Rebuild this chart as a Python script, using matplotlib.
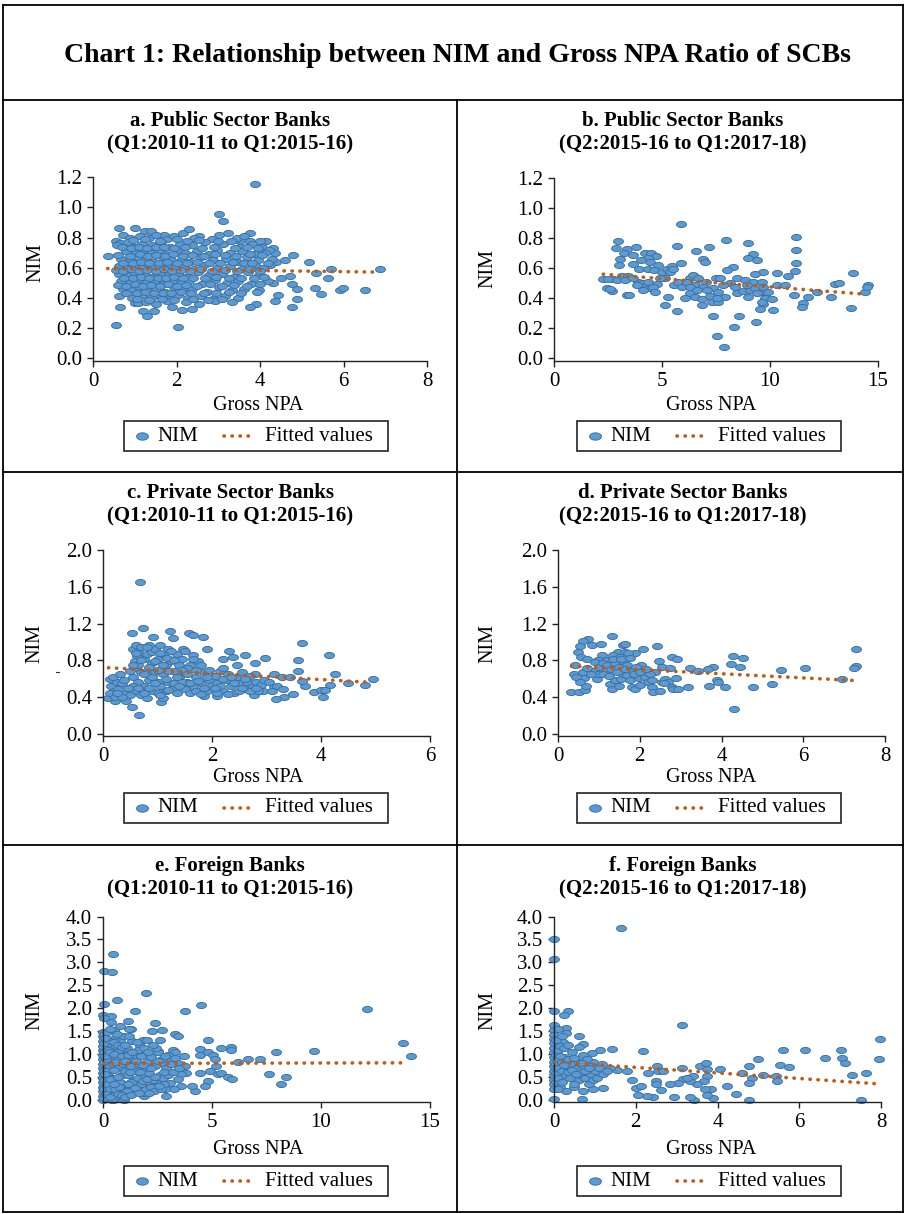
import numpy as np
import matplotlib
matplotlib.use("Agg")
import matplotlib.pyplot as plt
from matplotlib.path import Path
from matplotlib.markers import MarkerStyle
from matplotlib.lines import Line2D
from matplotlib.patches import Rectangle

plt.rcParams['font.family'] = ['Liberation Serif', 'DejaVu Serif']

# ---------------- data ----------------
main_title = "Chart 1: Relationship between NIM and Gross NPA Ratio of SCBs"
panel_titles = [
    ("a. Public Sector Banks", "(Q1:2010-11 to Q1:2015-16)"),
    ("b. Public Sector Banks", "(Q2:2015-16 to Q1:2017-18)"),
    ("c. Private Sector Banks", "(Q1:2010-11 to Q1:2015-16)"),
    ("d. Private Sector Banks", "(Q2:2015-16 to Q1:2017-18)"),
    ("e. Foreign Banks", "(Q1:2010-11 to Q1:2015-16)"),
    ("f. Foreign Banks", "(Q2:2015-16 to Q1:2017-18)"),
]
x_label = "Gross NPA"
y_label = "NIM"
legend_labels = ["NIM", "Fitted values"]

xticks_a = [0, 2, 4, 6, 8]
xticks_b = [0, 5, 10, 15]
xticks_c = [0, 2, 4, 6]
xticks_d = [0, 2, 4, 6, 8]
xticks_e = [0, 5, 10, 15]
xticks_f = [0, 2, 4, 6, 8]
yticks_ab = [0.0, 0.2, 0.4, 0.6, 0.8, 1.0, 1.2]
yticks_cd = [0.0, 0.4, 0.8, 1.2, 1.6, 2.0]
yticks_ef = [0.0, 0.5, 1.0, 1.5, 2.0, 2.5, 3.0, 3.5, 4.0]

# fitted line end points (x, y)
fit_a = [(0.35, 0.595), (6.7, 0.572)]
fit_b = [(2.28, 0.559), (14.48, 0.425)]
fit_c = [(0.10, 0.72), (4.85, 0.564)]
fit_d = [(0.33, 0.738), (7.23, 0.582)]
fit_e = [(0.03, 0.79), (13.9, 0.803)]
fit_f = [(0.0, 0.825), (7.94, 0.343)]

# scatter points (Gross NPA, NIM)
pts_a = [
    (3.87, 1.156), (3.02, 0.958), (3.11, 0.91), (0.37, 0.675), (0.56, 0.22), (2.04, 0.21),
    (6.87, 0.594), (6.52, 0.456), (5.91, 0.45), (5.99, 0.465), (5.69, 0.594), (5.63, 0.53),
    (5.18, 0.636), (5.35, 0.568), (5.31, 0.467), (5.47, 0.423), (4.80, 0.686), (4.77, 0.49),
    (4.89, 0.46), (4.89, 0.395), (4.77, 0.338), (4.42, 0.42), (4.35, 0.38), (4.61, 0.653),
    (4.51, 0.535), (4.72, 0.546), (4.31, 0.498), (3.90, 0.36), (3.75, 0.34), (3.98, 0.454),
    (3.75, 0.833), (3.23, 0.83), (3.02, 0.816), (2.38, 0.327), (2.12, 0.322), (1.90, 0.342),
    (1.20, 0.316), (1.29, 0.278), (1.46, 0.311), (0.65, 0.338), (1.0, 0.364), (1.08, 0.364),
    (0.62, 0.866), (1.01, 0.864), (1.24, 0.842), (1.40, 0.846), (1.70, 0.82), (2.16, 0.833),
    (2.29, 0.855), (2.55, 0.811), (0.54, 0.776), (0.64, 0.765), (4.15, 0.78), (4.31, 0.73),
    (4.35, 0.695), (4.38, 0.64), (4.23, 0.62), (3.75, 0.78), (3.99, 0.78), (3.51, 0.78), (3.39, 0.787),
    (0.72, 0.82), (0.88, 0.80), (1.12, 0.81), (1.33, 0.80), (1.52, 0.82), (1.78, 0.79), (1.95, 0.81),
    (2.42, 0.80), (2.85, 0.79), (3.45, 0.80), (3.62, 0.81),
    (0.58, 0.75), (0.83, 0.77), (0.98, 0.74), (1.18, 0.76), (1.42, 0.75), (1.63, 0.77), (1.85, 0.74),
    (2.08, 0.76), (2.36, 0.75), (2.68, 0.77), (3.12, 0.76), (3.52, 0.74), (3.82, 0.76), (4.05, 0.74), (4.22, 0.72),
    (0.78, 0.71), (1.03, 0.70), (1.22, 0.72), (1.38, 0.70), (1.58, 0.71), (1.76, 0.69), (2.02, 0.72),
    (2.21, 0.70), (2.48, 0.71), (2.77, 0.69), (2.98, 0.72), (3.28, 0.70), (3.58, 0.71), (3.88, 0.69), (4.12, 0.70),
    (0.68, 0.66), (0.92, 0.65), (1.08, 0.67), (1.28, 0.66), (1.47, 0.64), (1.68, 0.67), (1.88, 0.65),
    (2.12, 0.66), (2.32, 0.64), (2.58, 0.67), (2.88, 0.65), (3.18, 0.66), (3.48, 0.64), (3.68, 0.67),
    (3.95, 0.65), (4.28, 0.66),
    (0.62, 0.61), (0.82, 0.60), (1.02, 0.62), (1.18, 0.60), (1.37, 0.61), (1.57, 0.59), (1.77, 0.62),
    (1.97, 0.60), (2.18, 0.61), (2.42, 0.59), (2.67, 0.62), (2.97, 0.60), (3.27, 0.61), (3.57, 0.59),
    (3.87, 0.62), (4.08, 0.60),
    (0.63, 0.56), (0.84, 0.55), (0.99, 0.57), (1.21, 0.56), (1.41, 0.54), (1.61, 0.57), (1.82, 0.55),
    (2.03, 0.56), (2.23, 0.54), (2.52, 0.57), (2.78, 0.55), (3.08, 0.56), (3.38, 0.54), (3.72, 0.57), (3.98, 0.55),
    (0.66, 0.51), (0.88, 0.50), (1.07, 0.52), (1.27, 0.50), (1.48, 0.51), (1.67, 0.49), (1.92, 0.52),
    (2.11, 0.50), (2.31, 0.51), (2.62, 0.49), (2.92, 0.52), (3.22, 0.50), (3.47, 0.51), (3.78, 0.49), (4.18, 0.51),
    (0.72, 0.46), (0.91, 0.45), (1.13, 0.47), (1.32, 0.45), (1.52, 0.46), (1.72, 0.44), (1.93, 0.47),
    (2.14, 0.45), (2.38, 0.46), (2.72, 0.44), (3.02, 0.47), (3.32, 0.45), (3.62, 0.46), (3.92, 0.44),
    (0.63, 0.41), (0.93, 0.40), (1.17, 0.42), (1.39, 0.40), (1.62, 0.41), (1.82, 0.39), (2.04, 0.42),
    (2.28, 0.40), (2.58, 0.41), (2.87, 0.39), (3.17, 0.41), (3.48, 0.40),
    (1.28, 0.37), (1.52, 0.36), (1.78, 0.38), (2.22, 0.37), (2.53, 0.36), (2.93, 0.38), (3.33, 0.37),
    (0.95, 0.785), (1.25, 0.79), (1.6, 0.78), (2.0, 0.79), (2.25, 0.78), (2.55, 0.785), (3.0, 0.78), (3.3, 0.775),
    (0.7, 0.735), (0.9, 0.73), (1.1, 0.74), (1.3, 0.73), (1.5, 0.735), (1.7, 0.74), (1.95, 0.73),
    (2.2, 0.735), (2.6, 0.73), (2.9, 0.74), (3.4, 0.73), (3.7, 0.735), (3.95, 0.73),
    (0.6, 0.685), (0.88, 0.68), (1.12, 0.69), (1.32, 0.68), (1.5, 0.685), (1.72, 0.68), (1.92, 0.69),
    (2.15, 0.68), (2.38, 0.685), (2.65, 0.68), (2.92, 0.69), (3.15, 0.685), (3.42, 0.68), (3.75, 0.69), (4.05, 0.685),
    (0.72, 0.635), (0.95, 0.63), (1.15, 0.64), (1.35, 0.63), (1.58, 0.635), (1.78, 0.64), (2.0, 0.63),
    (2.25, 0.635), (2.5, 0.64), (2.78, 0.63), (3.05, 0.635), (3.35, 0.64), (3.62, 0.63), (3.82, 0.635), (4.18, 0.63),
    (0.55, 0.585), (0.72, 0.58), (0.92, 0.59), (1.1, 0.58), (1.3, 0.585), (1.5, 0.58), (1.7, 0.59),
    (1.9, 0.58), (2.1, 0.585), (2.32, 0.58), (2.58, 0.59), (2.85, 0.58), (3.15, 0.585), (3.45, 0.58),
    (3.75, 0.59), (4.0, 0.58),
    (0.75, 0.535), (0.95, 0.53), (1.15, 0.54), (1.35, 0.53), (1.55, 0.535), (1.75, 0.53), (1.95, 0.54),
    (2.15, 0.53), (2.4, 0.535), (2.68, 0.53), (2.95, 0.54), (3.25, 0.53), (3.55, 0.535), (3.85, 0.53), (4.1, 0.54),
    (0.6, 0.485), (0.8, 0.48), (1.0, 0.49), (1.2, 0.48), (1.4, 0.485), (1.6, 0.48), (1.8, 0.49),
    (2.0, 0.48), (2.22, 0.485), (2.5, 0.48), (2.8, 0.49), (3.1, 0.48), (3.38, 0.485), (3.7, 0.48), (4.0, 0.49),
    (0.8, 0.435), (1.05, 0.43), (1.25, 0.44), (1.45, 0.43), (1.68, 0.435), (1.88, 0.43), (2.1, 0.44),
    (2.35, 0.43), (2.65, 0.435), (2.95, 0.43), (3.25, 0.44), (3.55, 0.43),
    (1.05, 0.39), (1.35, 0.385), (1.65, 0.39), (1.95, 0.385), (2.4, 0.39), (2.75, 0.385), (3.1, 0.39),
]

pts_b = [
    (5.88, 0.893), (2.98, 0.779), (2.85, 0.735), (3.36, 0.724), (3.78, 0.737), (3.06, 0.662),
    (3.02, 0.618), (3.24, 0.70), (3.67, 0.684), (4.21, 0.70), (4.49, 0.70), (4.72, 0.678),
    (4.37, 0.667), (4.01, 0.651), (4.44, 0.64), (4.83, 0.623), (3.64, 0.625), (3.92, 0.596),
    (4.34, 0.596), (4.63, 0.586), (5.0, 0.575), (5.25, 0.596), (5.46, 0.612), (5.88, 0.636),
    (5.69, 0.748), (6.56, 0.711), (7.19, 0.737), (6.91, 0.658), (6.99, 0.64), (7.98, 0.789),
    (8.98, 0.763), (9.23, 0.695), (9.0, 0.667), (9.41, 0.656), (8.3, 0.607), (7.99, 0.586),
    (11.19, 0.807), (11.19, 0.721), (11.19, 0.636), (11.14, 0.577), (10.82, 0.544), (10.34, 0.564),
    (9.69, 0.575), (9.29, 0.559), (13.86, 0.57), (2.28, 0.524), (2.75, 0.526), (3.13, 0.546),
    (3.44, 0.544), (2.44, 0.465), (2.7, 0.45), (3.4, 0.421), (3.47, 0.419), (3.9, 0.509),
    (4.06, 0.498), (4.29, 0.487), (4.44, 0.465), (4.75, 0.496), (5.14, 0.531), (5.29, 0.41),
    (5.14, 0.351), (5.68, 0.314), (5.56, 0.487), (5.99, 0.487), (6.3, 0.535), (6.45, 0.553),
    (6.68, 0.535), (7.06, 0.509), (7.48, 0.535), (7.69, 0.535), (6.53, 0.487), (6.91, 0.476),
    (7.38, 0.465), (7.61, 0.439), (6.3, 0.432), (6.53, 0.404), (6.84, 0.395), (6.06, 0.399),
    (6.84, 0.355), (7.3, 0.373), (7.61, 0.373), (7.92, 0.41), (7.36, 0.281), (7.55, 0.151),
    (7.86, 0.077), (8.35, 0.211), (8.56, 0.281), (9.35, 0.243), (8.15, 0.502), (8.46, 0.531),
    (8.84, 0.52), (9.23, 0.509), (9.61, 0.509), (8.46, 0.432), (8.77, 0.447), (9.07, 0.454),
    (9.61, 0.443), (9.77, 0.399), (10.08, 0.395), (9.69, 0.36), (9.54, 0.329), (10.15, 0.322),
    (10.31, 0.487), (10.7, 0.487), (11.13, 0.421), (11.54, 0.366), (11.47, 0.338), (11.78, 0.41),
    (12.16, 0.443), (12.82, 0.41), (13.0, 0.493), (13.21, 0.502), (13.75, 0.333), (14.4, 0.443),
    (14.55, 0.487), (14.5, 0.471), (2.9, 0.52), (3.29, 0.52), (3.67, 0.531), (3.83, 0.487),
    (4.14, 0.454), (4.37, 0.509), (4.6, 0.476), (4.68, 0.443), (4.91, 0.531), (5.37, 0.575),
    (5.52, 0.596), (5.76, 0.509), (5.91, 0.476), (6.14, 0.509), (6.3, 0.476), (6.6, 0.454),
    (7.07, 0.454), (7.22, 0.417), (7.53, 0.399), (7.84, 0.487), (8.38, 0.476), (8.92, 0.487),
    (9.31, 0.465), (9.38, 0.432), (9.69, 0.476), (9.92, 0.443), (9.61, 0.377), (9.0, 0.41),
    (2.52, 0.524), (2.59, 0.46),
]

pts_c = [
    (0.68, 1.647), (0.73, 1.156), (0.54, 1.098), (1.23, 1.12), (1.57, 1.098), (1.65, 1.073),
    (1.84, 1.055), (0.92, 1.055), (1.28, 1.047), (1.9, 0.927), (1.47, 0.927), (1.66, 0.862),
    (2.32, 0.898), (2.61, 0.855), (2.98, 0.829), (3.66, 0.989), (4.15, 0.858), (3.58, 0.804),
    (2.79, 0.767), (2.39, 0.836), (2.21, 0.811), (3.58, 0.68), (4.26, 0.651), (4.17, 0.535),
    (4.49, 0.553), (4.81, 0.535), (4.95, 0.60), (3.71, 0.527), (3.88, 0.455), (4.0, 0.48),
    (4.07, 0.48), (4.04, 0.40), (3.49, 0.436), (3.33, 0.40), (3.17, 0.378), (2.77, 0.429),
    (3.13, 0.516), (2.94, 0.465), (2.09, 0.411), (1.86, 0.411), (1.06, 0.353), (0.54, 0.298),
    (0.66, 0.207), (0.22, 0.364), (0.1, 0.389), (0.43, 0.364), (0.13, 0.60), (3.13, 0.647),
    (3.28, 0.618), (3.43, 0.615), (3.65, 0.571), (2.79, 0.655),
    (0.15, 0.52), (0.2, 0.47), (0.25, 0.57), (0.3, 0.42), (0.35, 0.55), (0.12, 0.45), (0.18, 0.62),
    (0.28, 0.49), (0.4, 0.44), (0.22, 0.40), (0.32, 0.65), (0.38, 0.59),
    (0.55, 0.92), (0.6, 0.97), (0.62, 0.85), (0.58, 0.79), (0.65, 0.89), (0.7, 0.95), (0.75, 0.82),
    (0.8, 0.87), (0.85, 0.97), (0.9, 0.77), (0.6, 0.72), (0.7, 0.67), (0.8, 0.69), (0.55, 0.62),
    (0.65, 0.57), (0.75, 0.52), (0.85, 0.59), (0.6, 0.47), (0.7, 0.42), (0.8, 0.39), (0.5, 0.42),
    (0.9, 0.47), (0.55, 0.52), (0.65, 0.75), (0.9, 0.89), (0.5, 0.69),
    (0.95, 0.92), (1.0, 0.82), (1.05, 0.97), (1.1, 0.87), (1.15, 0.75), (1.2, 0.92), (1.25, 0.79),
    (1.3, 0.69), (1.35, 0.87), (1.4, 0.62), (0.95, 0.67), (1.0, 0.57), (1.05, 0.52), (1.1, 0.65),
    (1.15, 0.47), (1.2, 0.57), (1.25, 0.49), (1.3, 0.55), (1.35, 0.45), (1.0, 0.45), (1.1, 0.39),
    (0.95, 0.79), (1.18, 0.83), (1.4, 0.75),
    (1.45, 0.82), (1.5, 0.67), (1.55, 0.57), (1.6, 0.75), (1.65, 0.52), (1.7, 0.62), (1.75, 0.79),
    (1.8, 0.55), (1.85, 0.67), (1.9, 0.47), (1.95, 0.59), (1.5, 0.49), (1.6, 0.45), (1.45, 0.57),
    (1.7, 0.47), (1.55, 0.72), (1.8, 0.44), (2.0, 0.53),
    (2.05, 0.63), (2.1, 0.55), (2.15, 0.69), (2.2, 0.47), (2.25, 0.59), (2.3, 0.65), (2.35, 0.52),
    (2.4, 0.45), (2.45, 0.61), (2.5, 0.55), (2.55, 0.67), (2.6, 0.49), (2.65, 0.57), (2.7, 0.63),
    (2.75, 0.52), (2.8, 0.57), (2.85, 0.47), (2.9, 0.53), (2.95, 0.59), (2.1, 0.45), (2.3, 0.43),
    (2.5, 0.47), (2.2, 0.72), (2.45, 0.75), (2.7, 0.47),
    (3.05, 0.57), (3.2, 0.52), (3.3, 0.49), (3.1, 0.47),
    (0.55, 0.75), (0.6, 0.88), (0.7, 0.80), (0.75, 0.65), (0.8, 0.95), (0.85, 0.73), (0.9, 0.62),
    (0.95, 0.55), (1.0, 0.70), (1.05, 0.88), (1.1, 0.75), (1.15, 0.60), (1.2, 0.68), (1.25, 0.90),
    (1.3, 0.80), (1.35, 0.62), (1.4, 0.52), (1.45, 0.70), (1.5, 0.90), (1.55, 0.65), (1.6, 0.55),
    (1.65, 0.82), (1.7, 0.70), (1.75, 0.58), (1.8, 0.75), (1.85, 0.50), (1.9, 0.62), (1.95, 0.70),
    (0.75, 0.45), (0.85, 0.50), (0.65, 0.50), (1.05, 0.42), (1.2, 0.48), (2.2, 0.60), (2.4, 0.55),
    (2.6, 0.60), (2.8, 0.50), (2.15, 0.52), (2.35, 0.62), (2.55, 0.50), (2.05, 0.50), (0.45, 0.50),
    (0.35, 0.40), (0.25, 0.45),
]

pts_d = [
    (1.31, 1.069), (0.74, 1.033), (0.62, 1.011), (0.54, 0.956), (0.50, 0.891), (0.56, 0.836),
    (0.70, 0.818), (0.82, 0.971), (1.05, 0.975), (1.6, 0.964), (1.64, 0.975), (2.09, 0.92),
    (2.41, 0.956), (1.88, 0.884), (1.48, 0.891), (1.64, 0.891), (1.72, 0.884), (1.35, 0.855),
    (1.07, 0.855), (0.99, 0.80), (1.19, 0.80), (0.91, 0.782), (1.52, 0.836), (2.46, 0.793),
    (2.78, 0.84), (2.92, 0.811), (4.29, 0.847), (4.52, 0.822), (4.23, 0.756), (4.45, 0.731),
    (5.46, 0.695), (6.04, 0.72), (7.29, 0.92), (7.29, 0.735), (7.24, 0.713), (6.94, 0.596),
    (5.23, 0.545), (4.78, 0.516), (4.09, 0.509), (3.9, 0.582), (3.92, 0.564), (3.7, 0.52),
    (3.8, 0.727), (3.66, 0.702), (3.23, 0.72), (3.43, 0.684), (3.17, 0.516), (4.31, 0.269),
    (0.38, 0.655), (0.33, 0.455), (0.52, 0.455), (0.66, 0.473), (0.69, 0.527), (0.64, 0.611),
    (0.42, 0.745), (0.89, 0.68), (0.95, 0.60), (0.99, 0.655), (1.17, 0.691), (1.27, 0.545),
    (1.31, 0.484), (1.39, 0.582), (1.54, 0.60), (1.6, 0.655), (1.68, 0.636), (1.76, 0.582),
    (1.8, 0.509), (1.88, 0.491), (1.97, 0.607), (2.03, 0.745), (2.13, 0.618), (2.21, 0.564),
    (2.29, 0.509), (2.33, 0.455), (2.5, 0.465), (2.54, 0.564), (2.62, 0.60), (2.7, 0.564),
    (2.78, 0.509), (2.82, 0.491), (2.88, 0.607), (2.94, 0.491), (2.37, 0.673), (2.25, 0.655),
    (2.54, 0.727), (2.74, 0.716),
    (1.0, 0.73), (1.1, 0.77), (1.2, 0.75), (1.3, 0.71), (1.4, 0.77), (1.5, 0.73), (1.6, 0.79),
    (1.7, 0.75), (1.8, 0.69), (1.9, 0.73), (1.1, 0.65), (1.25, 0.63), (1.45, 0.67), (1.65, 0.71),
    (1.85, 0.65), (2.0, 0.67), (2.15, 0.71), (2.3, 0.59), (1.35, 0.82), (1.55, 0.81), (1.75, 0.83),
    (0.6, 0.67), (0.7, 0.72), (0.8, 0.65), (0.45, 0.62), (0.55, 0.57), (2.6, 0.55), (2.0, 0.53), (1.5, 0.52),
]

pts_e = [
    (0.46, 3.175), (0.03, 2.80), (0.41, 2.78), (1.96, 2.336), (0.66, 2.175), (0.03, 2.088),
    (4.51, 2.073), (3.75, 1.942), (1.47, 1.927), (12.09, 1.978), (0.0, 1.847), (0.38, 1.818),
    (1.15, 1.715), (2.4, 1.679), (2.25, 1.496), (2.71, 1.518), (3.29, 1.431), (3.44, 1.394),
    (4.82, 1.299), (13.78, 1.234), (14.14, 0.949), (9.68, 1.058), (7.92, 1.036), (7.19, 0.876),
    (6.65, 0.876), (6.19, 0.825), (5.43, 1.124), (5.86, 1.153), (5.86, 1.088), (4.43, 1.109),
    (4.43, 0.971), (4.82, 1.044), (5.05, 0.971), (5.12, 0.883), (5.2, 0.737), (4.89, 0.628),
    (4.43, 0.591), (5.28, 0.555), (5.43, 0.591), (5.73, 0.504), (5.93, 0.453), (7.61, 0.555),
    (8.38, 0.504), (8.17, 0.343), (4.82, 0.409), (4.66, 0.299), (4.2, 0.19), (4.1, 0.299),
    (3.59, 0.299), (3.26, 0.226), (2.83, 0.226), (2.89, 0.073), (1.88, 0.08), (1.87, 0.139),
    (0.96, 0.0), (0.46, 0.0), (0.08, 0.08), (3.72, 0.956), (3.21, 1.088), (3.29, 1.029),
    (3.17, 0.869), (2.52, 1.066), (2.68, 0.81), (3.44, 0.81), (3.78, 0.737), (3.82, 0.591),
    (3.59, 0.555), (3.44, 0.445), (3.06, 0.372), (2.52, 0.372), (2.22, 0.299), (1.76, 0.314),
    (1.3, 0.226), (0.92, 0.19), (0.54, 0.153), (1.83, 1.307), (1.27, 1.54), (0.38, 1.686),
    (0.0, 0.0), (0.0, 0.08), (0.0, 0.18), (0.0, 0.28), (0.0, 0.38), (0.0, 0.48), (0.0, 0.58),
    (0.0, 0.68), (0.0, 0.78), (0.0, 0.88), (0.0, 0.98), (0.0, 1.08), (0.0, 1.18), (0.0, 1.28),
    (0.0, 1.38), (0.0, 1.48),
    (0.05, 0.03), (0.05, 0.23), (0.05, 0.43), (0.05, 0.63), (0.05, 0.83), (0.05, 1.03), (0.05, 1.23),
    (0.05, 1.43), (0.05, 1.78),
    (0.15, 0.13), (0.2, 0.33), (0.25, 0.53), (0.3, 0.73), (0.35, 0.93), (0.4, 1.13), (0.45, 1.33),
    (0.2, 1.48), (0.15, 0.88), (0.3, 0.23), (0.4, 0.48), (0.45, 0.78), (0.25, 1.08), (0.35, 1.28),
    (0.5, 1.53), (0.5, 0.03), (0.2, 0.63), (0.4, 0.0),
    (0.55, 0.23), (0.6, 0.43), (0.65, 0.68), (0.7, 0.88), (0.75, 1.08), (0.8, 1.28), (0.85, 0.53),
    (0.9, 0.78), (0.95, 0.98), (1.0, 0.33), (0.6, 1.18), (0.7, 0.13), (0.8, 0.38), (0.9, 1.38),
    (0.55, 0.83), (0.65, 1.43), (1.0, 0.63), (0.75, 0.28),
    (1.05, 0.83), (1.1, 1.13), (1.15, 0.53), (1.2, 0.23), (1.25, 0.93), (1.3, 0.73), (1.35, 1.28),
    (1.4, 0.43), (1.45, 1.03), (1.5, 0.63), (1.1, 0.18), (1.2, 1.38), (1.3, 0.38), (1.4, 0.88),
    (1.55, 0.93), (1.6, 0.48), (1.65, 0.78), (1.7, 1.18), (1.75, 0.33), (1.8, 0.63), (1.85, 0.98),
    (1.9, 0.53), (1.95, 0.23), (2.0, 0.83), (1.6, 1.08), (1.9, 1.13),
    (2.1, 0.58), (2.2, 0.93), (2.3, 0.43), (2.4, 0.73), (2.5, 1.03), (2.6, 0.53), (2.7, 0.88),
    (2.8, 0.33), (2.9, 0.68), (3.0, 0.98), (2.2, 0.28), (2.45, 1.13), (2.75, 0.48), (3.0, 0.53),
    (2.35, 0.18), (2.65, 0.23),
    (0.1, 0.55), (0.1, 0.95), (0.1, 1.35), (0.3, 0.05), (0.3, 0.45), (0.3, 1.05), (0.5, 0.35),
    (0.5, 0.65), (0.5, 1.0), (0.5, 1.25), (0.7, 0.5), (0.7, 1.2), (0.85, 0.1), (0.85, 0.95),
    (0.85, 1.15), (1.0, 0.05), (1.0, 0.85), (1.0, 1.2), (1.15, 0.35), (1.15, 0.98), (1.25, 0.6),
    (1.3, 0.1), (1.35, 1.05), (1.45, 0.25), (1.5, 0.85), (1.55, 1.25), (1.65, 0.15), (1.7, 0.6),
    (1.75, 0.95), (1.85, 0.4), (1.85, 0.75), (2.0, 0.45), (2.05, 1.05), (2.1, 0.15), (2.2, 0.68),
    (2.3, 1.2), (2.4, 0.5), (2.5, 0.85), (2.55, 0.3), (2.6, 1.3), (2.8, 0.6), (2.85, 0.95),
    (3.1, 0.78), (3.2, 0.6), (3.3, 0.9), (3.5, 0.7), (2.0, 1.3), (1.2, 1.55), (0.8, 1.6), (0.3, 1.55),
]

pts_f = [
    (1.64, 3.752), (0.0, 3.504), (0.0, 3.066), (0.0, 1.927), (0.35, 1.942), (0.24, 1.854),
    (0.0, 1.628), (3.14, 1.628), (0.0, 1.518), (0.29, 1.562), (0.29, 1.453), (0.62, 1.394),
    (0.0, 1.409), (0.0, 1.321), (0.21, 1.248), (0.72, 1.212), (0.6, 1.139), (1.13, 1.088),
    (1.41, 1.102), (0.93, 1.015), (2.17, 1.051), (7.98, 1.321), (7.95, 0.876), (7.01, 1.088),
    (7.04, 0.898), (7.12, 0.803), (6.63, 0.912), (6.14, 1.088), (5.6, 1.088), (5.76, 0.708),
    (5.53, 0.745), (4.98, 0.876), (4.76, 0.723), (4.06, 0.672), (4.6, 0.591), (4.84, 0.482),
    (4.78, 0.372), (5.12, 0.533), (5.43, 0.518), (5.45, 0.409), (7.28, 0.533), (7.63, 0.591),
    (7.51, 0.0), (4.78, 0.0), (4.45, 0.117), (4.23, 0.299), (3.9, 0.044), (3.74, 0.102),
    (3.84, 0.226), (3.70, 0.226), (3.43, 0.0), (3.33, 0.066), (2.94, 0.058), (2.62, 0.212),
    (2.43, 0.058), (2.27, 0.073), (2.06, 0.109), (2.01, 0.255), (2.12, 0.299), (1.9, 0.431),
    (1.78, 0.62), (1.53, 0.65), (1.37, 0.693), (1.17, 0.774), (0.96, 0.832), (2.51, 0.737),
    (2.55, 0.628), (2.29, 0.591), (2.66, 0.62), (3.14, 0.679), (3.56, 0.737), (3.72, 0.803),
    (3.74, 0.664), (3.75, 0.518), (3.67, 0.409), (3.49, 0.336), (3.33, 0.409), (3.16, 0.445),
    (3.04, 0.372), (2.85, 0.35), (2.5, 0.409), (2.5, 0.336), (3.41, 0.518), (3.25, 0.482),
    (0.0, 0.022), (0.68, 0.022), (0.49, 0.27), (0.72, 0.19), (0.96, 0.241), (1.21, 0.263),
    (0.0, 0.43), (0.0, 0.53), (0.0, 0.63), (0.0, 0.73), (0.0, 0.83), (0.0, 0.93), (0.0, 1.03),
    (0.0, 1.13), (0.0, 1.23), (0.0, 0.33), (0.0, 0.23), (0.05, 0.58), (0.05, 0.78), (0.05, 0.98),
    (0.05, 0.38), (0.1, 0.68), (0.1, 0.88), (0.1, 1.08), (0.1, 0.48), (0.15, 0.28), (0.2, 0.63),
    (0.2, 0.83), (0.25, 0.93), (0.3, 0.53), (0.3, 0.73), (0.35, 0.88), (0.4, 0.63), (0.4, 0.48),
    (0.45, 0.78), (0.5, 0.58), (0.55, 0.68), (0.6, 0.43), (0.65, 0.53), (0.7, 0.73), (0.75, 0.48),
    (0.8, 0.61), (0.85, 0.33), (0.9, 0.55), (0.95, 0.43), (1.0, 0.63), (1.05, 0.48), (0.15, 1.18),
    (0.25, 1.13), (0.2, 0.38), (0.5, 0.33), (0.3, 0.18), (0.6, 0.83), (0.7, 0.98), (0.8, 0.88),
    (0.9, 0.73), (1.1, 0.68), (1.2, 0.55), (1.3, 0.63), (0.45, 1.03), (0.1, 0.23),
    (0.05, 1.3), (0.15, 0.95), (0.25, 0.75), (0.35, 0.6), (0.45, 0.65), (0.55, 0.55), (0.65, 0.8),
    (0.75, 0.62), (0.85, 0.7), (0.5, 0.9), (0.35, 1.2), (0.2, 1.4), (0.1, 1.55),
]

# ---------------- layout ----------------
W, H = 905, 1214
fig = plt.figure(figsize=(W / 100, H / 100), dpi=100)
fig.patch.set_facecolor('white')

def fx(x):
    return x / W

def fy(y):
    return 1 - y / H

PT_COLOR = '#5B9BD5'
PT_EDGE = '#41719C'
FIT_COLOR = '#C55A11'
theta = np.linspace(0, 2 * np.pi, 64)
ell = Path(np.column_stack([np.cos(theta), 0.62 * np.sin(theta)]), closed=True)
ell_marker = MarkerStyle(ell)
DOTS = (0, (0.1, 2.12))

# (points, fit, xticks, yticks, xlim, ylim, axes box px, subtitle x, y1, y2,
#  ylabel xy, xlabel xy, legend box left/top px)
panels = [
    (pts_a, fit_a, xticks_a, yticks_ab, (0, 8), (-0.018, 1.2), (93, 177.3, 427, 361),
     230, 120.7, 144, (36, 262), (258, 405), (124, 421)),
    (pts_b, fit_b, xticks_b, yticks_ab, (0, 15), (-0.018, 1.2), (554, 177.7, 878, 361),
     683, 120.7, 144, (488, 268), (711, 405), (577, 421)),
    (pts_c, fit_c, xticks_c, yticks_cd, (0, 6), (-0.025, 2.0), (103, 550, 430, 736.3),
     230, 493.3, 516.7, (35, 643), (258, 777), (124, 793)),
    (pts_d, fit_d, xticks_d, yticks_cd, (0, 8), (-0.025, 2.0), (558, 550, 885, 736.3),
     683, 493.3, 516.7, (488, 643), (711, 777), (577, 793)),
    (pts_e, fit_e, xticks_e, yticks_ef, (0, 15), (-0.06, 4.0), (103, 916.6, 430, 1102.3),
     230, 865.7, 889.3, (35, 1010), (258, 1150), (124, 1166)),
    (pts_f, fit_f, xticks_f, yticks_ef, (0, 8), (-0.06, 4.0), (554, 916.6, 881, 1102.3),
     683, 865.7, 889.3, (488, 1010), (711, 1150), (577, 1166)),
]

TICK_FS = 15
LABEL_FS = 14.5
SUB_FS = 15
LEG_FS = 15

for i, (pts, fit, xt, yt, xl, yl, box, scx, sy1, sy2, ylab, xlab, legc) in enumerate(panels):
    l, t, r, b = box
    ax = fig.add_axes([fx(l), fy(b), (r - l) / W, (b - t) / H])
    arr = np.array(pts)
    ax.scatter(arr[:, 0], arr[:, 1], s=50, marker=ell_marker, facecolor=PT_COLOR,
               edgecolor=PT_EDGE, linewidths=0.7, zorder=2, clip_on=False)
    fa = np.array(fit)
    ax.plot(fa[:, 0], fa[:, 1], color=FIT_COLOR, lw=2.6, linestyle=DOTS,
            dash_capstyle='round', zorder=3)
    ax.set_xlim(*xl)
    ax.set_ylim(*yl)
    ax.set_xticks(xt)
    ax.set_xticklabels([str(v) for v in xt])
    ax.set_yticks(yt)
    ax.set_yticklabels([f"{v:.1f}" for v in yt])
    for s in ['top', 'right']:
        ax.spines[s].set_visible(False)
    for s in ['left', 'bottom']:
        ax.spines[s].set_linewidth(1.0)
        ax.spines[s].set_color('#222222')
    ax.tick_params(direction='out', length=4, width=1.0, color='#222222',
                   labelsize=TICK_FS, pad=4)
    ax.set_facecolor('none')

    fig.text(fx(scx), fy(sy1), panel_titles[i][0], ha='center', va='center',
             fontsize=SUB_FS, fontweight='bold')
    fig.text(fx(scx), fy(sy2), panel_titles[i][1], ha='center', va='center',
             fontsize=SUB_FS, fontweight='bold')
    fig.text(fx(ylab[0]), fy(ylab[1]), y_label, rotation=90, ha='center', va='center',
             fontsize=LABEL_FS)
    fig.text(fx(xlab[0]), fy(xlab[1]), x_label, ha='center', va='center', fontsize=LABEL_FS)

    # legend box drawn by hand (figure pixel layout)
    lx, ly = legc
    lw_, lh_ = 264, 30
    cy = ly + lh_ / 2
    fig.add_artist(Rectangle((fx(lx), fy(ly + lh_)), lw_ / W, lh_ / H, transform=fig.transFigure,
                             facecolor='white', edgecolor='#222222', lw=1.2))
    fig.add_artist(Line2D([fx(lx + 18)], [fy(cy)], linestyle='none', marker=ell_marker,
                          markersize=8.5, markerfacecolor=PT_COLOR, markeredgecolor=PT_EDGE,
                          markeredgewidth=0.7))
    fig.text(fx(lx + 33), fy(cy), legend_labels[0], ha='left', va='center', fontsize=LEG_FS)
    fig.add_artist(Line2D([fx(lx + 100), fx(lx + 130)], [fy(cy), fy(cy)], color=FIT_COLOR,
                          lw=2.6, linestyle=DOTS, dash_capstyle='round'))
    fig.text(fx(lx + 141), fy(cy), legend_labels[1], ha='left', va='center', fontsize=LEG_FS)

fig.text(fx(457), fy(55), main_title, ha='center', va='center', fontsize=20, fontweight='bold')

LW = 1.3
def hline(y, x0=3, x1=903):
    fig.add_artist(Line2D([fx(x0), fx(x1)], [fy(y), fy(y)], color='black', lw=LW))

def vline(x, y0=5, y1=1212):
    fig.add_artist(Line2D([fx(x), fx(x)], [fy(y0), fy(y1)], color='black', lw=LW))

hline(5)
hline(100)
hline(472.5)
hline(845)
hline(1212)
vline(3)
vline(903)
vline(457, 100, 1212)

# small stray dash in panel c of the original
fig.add_artist(Line2D([fx(56), fx(59)], [fy(671.5), fy(671.5)], color='#333333', lw=0.8))

fig.savefig("out.png", dpi=100, facecolor='white')
